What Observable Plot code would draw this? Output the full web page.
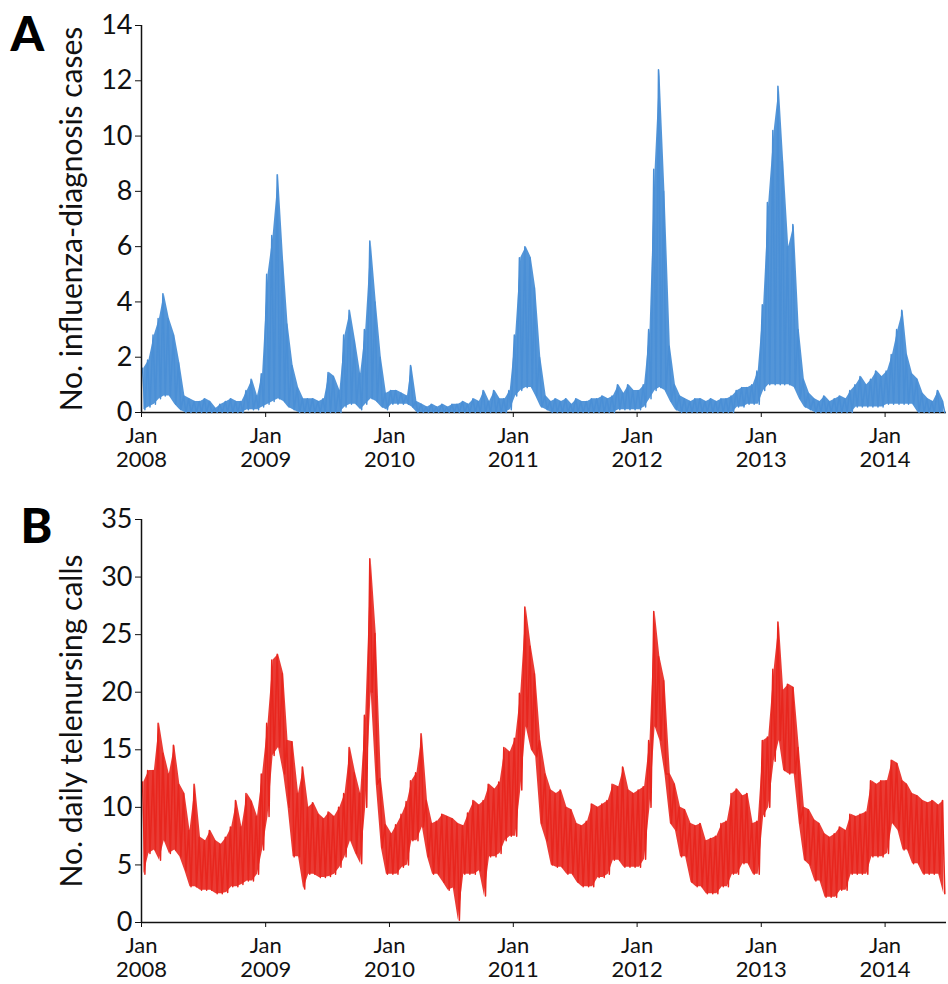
<!DOCTYPE html>
<html>
<head>
<meta charset="utf-8">
<script src="https://cdn.jsdelivr.net/npm/d3@7"></script>
<script src="https://cdn.jsdelivr.net/npm/@observablehq/plot@0.6"></script>
<style>
  html, body { margin: 0; padding: 0; background: #fff; }
  #chart svg { display: block; }
</style>
</head>
<body>
<div id="chart"></div>
<script>
// Half-month readings (1st–15th, 16th–end of each month), Jan 2008 – Jun 2014
const startYear = 2008;
const yearTicks = [2008, 2009, 2010, 2011, 2012, 2013, 2014];
const tickPrefix = "Jan";

// Panel A: influenza-diagnosis cases, highest / lowest daily value in each half-month
const influenzaHigh = [
  1.6, 1.9, 2.8, 3.4, 4.3, 3.4, 2.8, 1.8, 0.6, 0.5, 0.4, 0.4, 0.5, 0.4, 0.15, 0.3, 0.4, 0.5, 0.4, 0.4, 0.8, 1.2, 0.6, 1.4,
  5.0, 6.4, 8.6, 5.5, 3.2, 1.7, 0.9, 0.5, 0.5, 0.5, 0.4, 0.5, 1.45, 1.3, 0.8, 2.8, 3.7, 2.6, 1.4, 3.0, 6.2, 4.0, 2.0, 0.7,
  0.8, 0.8, 0.7, 0.6, 1.7, 0.4, 0.3, 0.2, 0.3, 0.2, 0.3, 0.2, 0.3, 0.3, 0.4, 0.3, 0.5, 0.4, 0.8, 0.4, 0.8, 0.5, 0.5, 0.8,
  2.8, 5.6, 6.0, 5.6, 4.5, 2.0, 0.6, 0.4, 0.5, 0.4, 0.5, 0.3, 0.5, 0.4, 0.4, 0.5, 0.5, 0.6, 0.5, 0.6, 1.0, 0.7, 1.0, 0.8,
  0.8, 1.0, 3.0, 8.8, 12.4, 8.0, 2.4, 1.0, 0.6, 0.5, 0.4, 0.5, 0.5, 0.4, 0.5, 0.4, 0.5, 0.5, 0.6, 0.8, 0.9, 0.9, 1.0, 1.5,
  3.9, 7.6, 10.2, 11.8, 9.1, 6.0, 6.8, 3.0, 1.2, 0.7, 0.5, 0.4, 0.6, 0.4, 0.5, 0.6, 0.5, 0.8, 1.0, 1.3, 1.0, 1.2, 1.5, 1.3,
  1.5, 2.1, 3.0, 3.7, 2.1, 1.4, 1.2, 0.7, 0.5, 0.4, 0.8, 0.4
];
const influenzaLow = [
  0.1, 0.2, 0.3, 0.5, 0.6, 0.6, 0.3, 0.1, 0, 0, 0, 0, 0, 0, 0, 0, 0, 0, 0, 0, 0.1, 0.1, 0.1, 0.2,
  0.3, 0.4, 0.5, 0.4, 0.2, 0.1, 0, 0, 0, 0, 0, 0, 0, 0, 0, 0.2, 0.3, 0.3, 0.1, 0.3, 0.5, 0.4, 0.2, 0.1,
  0.3, 0.3, 0.3, 0.3, 0.2, 0, 0, 0, 0, 0, 0, 0, 0, 0, 0, 0, 0, 0, 0, 0, 0, 0, 0, 0.1,
  0.6, 0.8, 0.9, 0.9, 0.6, 0.2, 0.1, 0, 0, 0, 0, 0, 0, 0, 0, 0, 0, 0, 0, 0, 0.1, 0.1, 0.1, 0.1,
  0.1, 0.2, 0.5, 0.8, 0.9, 0.8, 0.4, 0.1, 0, 0, 0, 0, 0, 0, 0, 0, 0, 0, 0, 0.2, 0.2, 0.3, 0.3, 0.3,
  0.8, 1.0, 1.0, 1.0, 1.0, 1.0, 0.9, 0.5, 0.2, 0.1, 0, 0, 0, 0, 0, 0, 0, 0, 0.2, 0.2, 0.2, 0.2, 0.2, 0.2,
  0.3, 0.3, 0.3, 0.3, 0.3, 0.3, 0, 0, 0, 0, 0, 0
];

// Panel B: daily telenursing calls, highest / lowest daily value in each half-month
const callsHigh = [
  12.2, 13.2, 13.2, 17.3, 14.7, 12.9, 15.4, 12.0, 11.2, 8.0, 12.0, 7.4, 7.1, 8.0, 7.1, 6.8, 7.4, 8.3, 10.6, 8.3, 11.2, 10.5, 9.2, 12.9,
  17.3, 22.8, 23.3, 21.6, 15.8, 15.7, 11.2, 13.5, 10.0, 10.4, 9.4, 9.0, 9.6, 9.2, 10.0, 11.2, 15.2, 13.0, 11.2, 18.0, 31.6, 25.1, 12.5, 8.5,
  7.7, 8.5, 9.4, 10.5, 12.3, 13.0, 16.4, 10.6, 8.6, 8.8, 9.4, 9.2, 9.0, 8.6, 8.4, 9.5, 10.6, 10.2, 10.6, 12.0, 11.6, 12.2, 15.2, 14.8,
  16.0, 19.9, 27.4, 24.0, 21.6, 15.8, 12.9, 11.5, 11.2, 11.5, 10.0, 9.8, 8.6, 8.4, 8.8, 10.3, 10.0, 10.3, 10.6, 12.0, 11.8, 13.5, 11.5, 11.2,
  11.5, 11.8, 15.8, 27.0, 23.1, 21.0, 12.9, 12.0, 10.0, 9.8, 8.6, 8.4, 8.6, 7.1, 7.3, 7.5, 8.6, 8.8, 11.2, 11.6, 11.0, 11.2, 8.6, 8.8,
  15.8, 16.1, 22.0, 26.1, 20.2, 20.7, 20.4, 15.2, 10.0, 9.8, 8.9, 8.6, 7.7, 7.4, 7.7, 8.3, 8.0, 9.4, 9.2, 9.4, 9.6, 12.3, 12.0, 12.3,
  12.3, 14.1, 13.8, 12.3, 12.0, 11.2, 11.0, 10.6, 10.4, 10.6, 10.2, 10.6
];
const callsLow = [
  4.2, 6.0, 6.3, 5.4, 7.1, 6.0, 6.3, 5.7, 4.5, 3.1, 3.1, 2.8, 2.8, 2.8, 2.5, 2.5, 2.6, 3.1, 3.1, 3.3, 3.6, 3.6, 4.2, 6.3,
  9.2, 14.5, 15.2, 12.9, 10.0, 5.7, 5.7, 2.9, 4.2, 4.2, 3.9, 3.9, 4.0, 4.2, 4.8, 5.7, 7.1, 6.0, 5.1, 10.0, 20.0, 12.0, 6.5, 4.2,
  4.2, 4.2, 4.8, 5.0, 7.1, 7.1, 8.3, 5.7, 4.2, 4.2, 3.5, 2.8, 3.0, 0.2, 4.2, 4.2, 4.2, 4.5, 2.3, 5.7, 5.7, 6.0, 7.1, 7.5,
  7.5, 11.5, 17.0, 15.0, 14.4, 8.6, 7.1, 5.0, 4.8, 4.8, 4.2, 4.2, 3.5, 3.1, 3.1, 3.1, 3.9, 3.9, 4.2, 5.4, 5.4, 4.8, 4.8, 4.8,
  4.8, 5.5, 10.0, 17.0, 15.8, 12.9, 8.6, 8.0, 5.7, 5.7, 3.5, 3.1, 3.1, 2.5, 2.5, 2.5, 3.1, 3.1, 4.2, 4.2, 5.1, 5.1, 4.2, 4.2,
  9.2, 10.0, 14.0, 15.8, 13.2, 12.9, 12.9, 8.6, 5.4, 5.0, 3.6, 3.6, 2.2, 2.2, 2.2, 2.8, 2.8, 4.2, 4.2, 4.2, 4.2, 5.7, 5.7, 5.7,
  6.0, 8.6, 8.0, 6.3, 6.3, 5.1, 5.1, 4.2, 4.2, 4.2, 4.2, 2.5
];

[influenzaHigh, influenzaLow, callsHigh, callsLow].forEach((a, i) => {
  if (a.length !== 156) throw new Error("array " + i + " has length " + a.length);
});

function slotDate(s, offset) {
  const m = Math.floor(s / 2);
  return new Date(Date.UTC(startYear, m, (s % 2 ? 16 : 1) + offset));
}
function zigzag(high, low) {
  const out = [];
  high.forEach((h, i) => {
    out.push({date: slotDate(i, 3), value: h});
    out.push({date: slotDate(i, 10), value: low[i]});
  });
  return out;
}
function band(high, low) {
  return high.map((h, i) => ({date: slotDate(i, 7), high: h, low: low[i]}));
}

const xDomain = [new Date(Date.UTC(startYear, 0, 1)), new Date(Date.UTC(2014, 6, 1))];
const tickDates = yearTicks.map(y => new Date(Date.UTC(y, 0, 1)));
const font = "Lato, 'Open Sans', sans-serif";

function panel({high, low, color, fillOpacity, yMax, yStep, height, marginTop, marginBottom, label, letter, letterDx, letterDy, axisUnder}) {
  const yTicks = d3.range(0, yMax + 0.001, yStep);
  return Plot.plot({
    width: 948,
    height,
    marginLeft: 141,
    marginRight: 2,
    marginTop,
    marginBottom,
    style: {fontFamily: font, background: "#fff", overflow: "visible", color: "#111"},
    x: {type: "utc", domain: xDomain},
    y: {domain: [0, yMax]},
    marks: [
      axisUnder ? Plot.ruleY([0], {stroke: "#111", strokeWidth: 1.5}) : null,
      Plot.areaY(band(high, low), {x: "date", y1: "low", y2: "high", fill: color, fillOpacity}),
      Plot.lineY(zigzag(high, low), {x: "date", y: "value", stroke: color, strokeWidth: 1.5}),
      axisUnder ? null : Plot.ruleY([0], {stroke: "#111", strokeWidth: 1.5}),
      Plot.ruleX([xDomain[0]], {stroke: "#111", strokeWidth: 1.5}),
      Plot.axisY({ticks: yTicks, tickSize: 6, tickPadding: 3, fontSize: 27, label: null, stroke: "#111"}),
      Plot.axisX({ticks: tickDates, tickFormat: d => `${tickPrefix}\n${d.getUTCFullYear()}`, tickSize: 5, tickPadding: 8, fontSize: 22, lineHeight: 1.1, label: null, stroke: "#111"}),
      Plot.text([label], {frameAnchor: "left", rotate: -90, dx: -69, textAnchor: "middle", lineAnchor: "middle", fontSize: 30, fill: "#111"}),
      Plot.text([letter], {frameAnchor: "top-left", dx: letterDx, dy: letterDy, textAnchor: "start", lineAnchor: "bottom", fontSize: 48, fontWeight: 900, fill: "#000"})
    ]
  });
}

const chart = document.getElementById("chart");
chart.append(panel({
  high: influenzaHigh, low: influenzaLow, color: "#4a8fd6", fillOpacity: 0.95, yMax: 14, yStep: 2, height: 480, marginTop: 25, marginBottom: 68,
  label: "No. influenza-diagnosis cases", letter: "A", letterDx: -131, letterDy: 25, axisUnder: true
}));
chart.append(panel({
  high: callsHigh, low: callsLow, color: "#e8261e", fillOpacity: 0.9, yMax: 35, yStep: 5, height: 504, marginTop: 39, marginBottom: 62,
  label: "No. daily telenursing calls", letter: "B", letterDx: -121, letterDy: 23, axisUnder: false
}));
</script>
</body>
</html>
